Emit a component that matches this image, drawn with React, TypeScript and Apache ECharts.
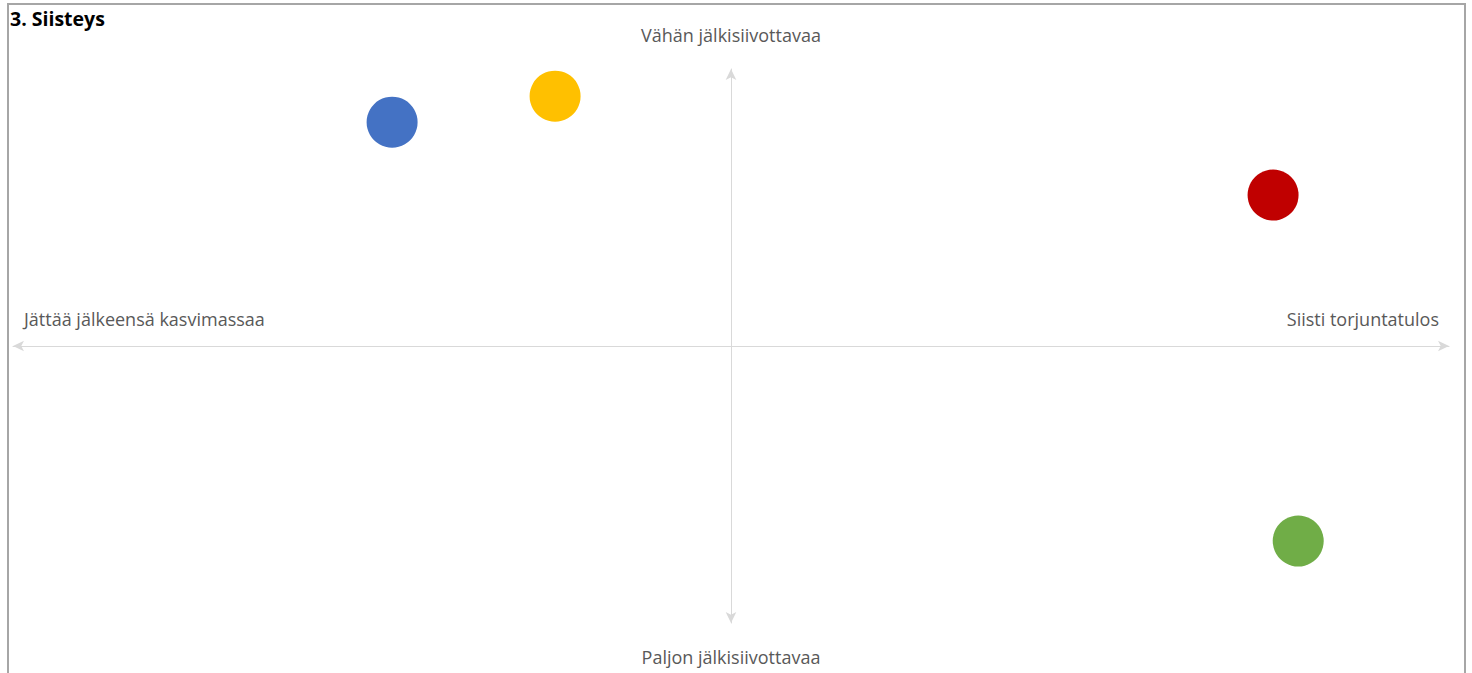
import React, { useEffect, useRef } from "react";
import * as echarts from "echarts";

const titleText = "3. Siisteys";
const topLabel = "Vähän jälkisiivottavaa";
const bottomLabel = "Paljon jälkisiivottavaa";
const leftLabel = "Jättää jälkeensä kasvimassaa";
const rightLabel = "Siisti torjuntatulos";

const pointNames = ["Sininen", "Keltainen", "Punainen", "Vihreä"];
const pointX = [-4.72, -2.45, 7.55, 7.9];
const pointY = [8.08, 9.02, 5.45, -7.04];
const pointColors = ["#4472C4", "#FFC000", "#C00000", "#70AD47"];

export default function App() {
  const ref = useRef<HTMLDivElement>(null);
  useEffect(() => {
    if (!ref.current) return;
    const chart = echarts.init(ref.current, undefined, { renderer: "svg" });
    const labelFont = "'Open Sans', 'Noto Sans', sans-serif";
    chart.setOption({
      animation: false,
      backgroundColor: "#ffffff",
      grid: { left: 13, right: 23, top: 69, bottom: 50, containLabel: false },
      xAxis: {
        type: "value",
        min: -10,
        max: 10,
        axisLine: {
          show: true,
          onZero: true,
          symbol: ["arrow", "arrow"],
          symbolSize: [8, 11],
          lineStyle: { color: "#d9d9d9", width: 1 },
        },
        axisTick: { show: false },
        axisLabel: { show: false },
        splitLine: { show: false },
      },
      yAxis: {
        type: "value",
        min: -10,
        max: 10,
        axisLine: {
          show: true,
          onZero: true,
          symbol: ["arrow", "arrow"],
          symbolSize: [8, 11],
          lineStyle: { color: "#d9d9d9", width: 1 },
        },
        axisTick: { show: false },
        axisLabel: { show: false },
        splitLine: { show: false },
      },
      series: pointNames.map((name, i) => ({
        type: "scatter",
        name,
        symbol: "circle",
        symbolSize: 51,
        itemStyle: { color: pointColors[i], opacity: 1 },
        data: [[pointX[i], pointY[i]]],
      })),
      graphic: [
        {
          type: "rect",
          shape: { x: 8, y: 4, width: 1457, height: 720 },
          style: { fill: "none", stroke: "#a6a6a6", lineWidth: 2 },
          silent: true,
        },
        {
          type: "text",
          x: 10,
          y: 18,
          style: {
            text: titleText,
            fill: "#000000",
            font: "bold 19.5px 'Open Sans', 'Noto Sans', sans-serif",
            align: "left",
            verticalAlign: "middle",
          },
        },
        {
          type: "text",
          x: 731,
          y: 35,
          style: {
            text: topLabel,
            fill: "#595959",
            font: `18px ${labelFont}`,
            align: "center",
            verticalAlign: "middle",
          },
        },
        {
          type: "text",
          x: 731,
          y: 657,
          style: {
            text: bottomLabel,
            fill: "#595959",
            font: `18px ${labelFont}`,
            align: "center",
            verticalAlign: "middle",
          },
        },
        {
          type: "text",
          x: 24,
          y: 319,
          style: {
            text: leftLabel,
            fill: "#595959",
            font: `18px ${labelFont}`,
            align: "left",
            verticalAlign: "middle",
          },
        },
        {
          type: "text",
          x: 1439,
          y: 319,
          style: {
            text: rightLabel,
            fill: "#595959",
            font: `18px ${labelFont}`,
            align: "right",
            verticalAlign: "middle",
          },
        },
      ],
    });
    return () => chart.dispose();
  }, []);
  return (
    <div
      ref={ref}
      style={{ position: "fixed", left: 0, top: 0, width: 1472, height: 673 }}
    />
  );
}
